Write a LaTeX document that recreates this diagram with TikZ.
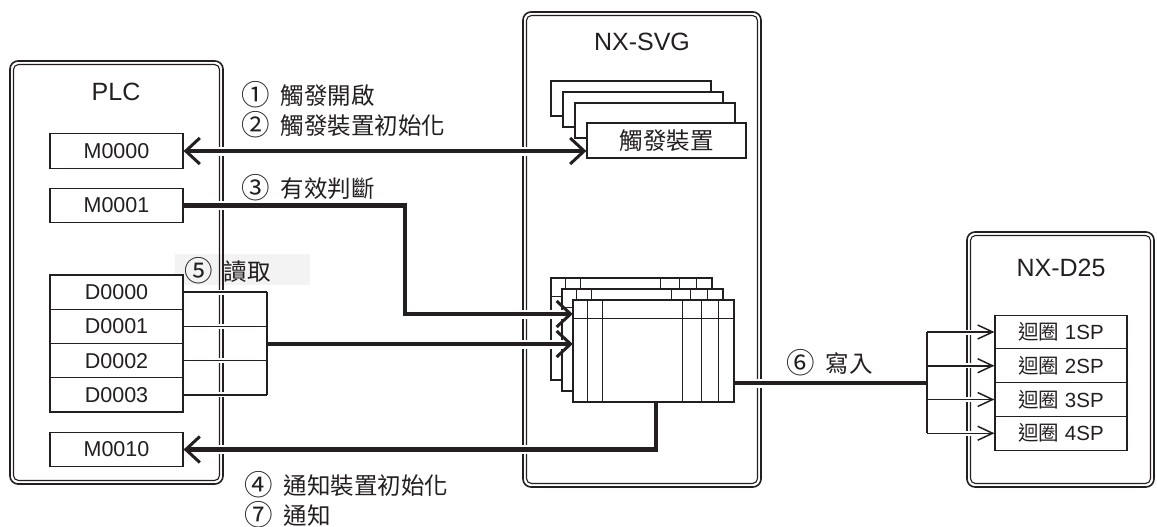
\documentclass[tikz,border=0pt]{standalone}
\usepackage{fontspec}
\setmainfont{Liberation Sans}
\newfontfamily\cjk{Noto Sans CJK TC}
\usetikzlibrary{arrows.meta}
\definecolor{ink}{HTML}{231F20}
\definecolor{pale}{HTML}{F3F3F3}
\newcommand{\cn}[1]{\raisebox{-1.5pt}{\cjk\fontsize{28.5}{30}\selectfont #1}\hspace{11pt}}
\tikzset{
  outerb/.style={draw=ink, line width=1.6pt, rounded corners=8pt},
  innerb/.style={draw=ink, line width=1.1pt, rounded corners=5pt},
  reg/.style={draw=ink, line width=1.2pt, fill=white, minimum width=133pt, minimum height=34.25pt, inner sep=0pt, font=\fontsize{21.5}{25}\selectfont, text=ink},
  coil/.style={draw=ink, line width=1.2pt, fill=white, minimum width=132pt, minimum height=33.75pt, inner sep=0pt, font=\fontsize{20.5}{24}\selectfont, text=ink},
  trig/.style={draw=ink, line width=1.3pt, fill=white, minimum width=159pt, minimum height=35pt, inner sep=0pt, font=\cjk\fontsize{23.5}{27}\selectfont, text=ink},
  layer/.style={draw=ink, line width=1.3pt, fill=white},
  tin/.style={draw=ink, line width=0.9pt},
  lbl/.style={anchor=west, inner sep=0pt, font=\cjk\fontsize{23.5}{27}\selectfont, text=ink},
  title/.style={inner sep=0pt, font=\fontsize{25}{29}\selectfont, text=ink},
  thk/.style={draw=ink, line width=4.8pt, preaction={draw=white, -, line width=9pt, shorten <=8pt, shorten >=8pt}},
  thn/.style={draw=ink, line width=1.5pt, preaction={draw=white, -, line width=5pt, shorten <=8pt, shorten >=8pt}},
  bigtip/.tip={Straight Barb[length=14pt, width=26pt, line width=3pt]},
  smalltip/.tip={Straight Barb[length=15pt, width=14pt, line width=1.5pt]},
}
\begin{document}
\begin{tikzpicture}[x=1pt,y=-1pt]
\useasboundingbox (0,0) rectangle (1157,527);
% pale background of label 5
\fill[pale] (175,254) rectangle (310,285);
% containers
\draw[outerb] (10,61) rectangle (223,484);
\draw[innerb] (13.5,64.5) rectangle (219.5,480.5);
\draw[outerb] (523,12) rectangle (761,487);
\draw[innerb] (526.5,15.5) rectangle (757.5,483.5);
\draw[outerb] (967,232) rectangle (1154,487);
\draw[innerb] (970.5,235.5) rectangle (1150.5,483.5);
% titles
\node[title] (plc) at (116,92) {PLC};
\node[title] (svg) at (642,42) {NX-SVG};
\node[title] (d25) at (1061,268) {NX-D25};
% PLC registers
\node[reg] (m0) at (116.5,151) {M0000};
\node[reg] (m1) at (116.5,205.5) {M0001};
\node[reg] (d0) at (116.5,292.1) {D0000};
\node[reg] (d1) at (116.5,326.4) {D0001};
\node[reg] (d2) at (116.5,360.6) {D0002};
\node[reg] (d3) at (116.5,394.9) {D0003};
\node[reg] (m10) at (116.5,449.5) {M0010};
% trigger stack
\foreach \x/\y in {551/81,563/92,575/103} \draw[layer] (\x,\y) rectangle ++(160,35);
\node[trig] (trg) at (666.5,140.5) {觸發裝置};
% table stack
\foreach \o in {-22,-11,0} {
  \draw[layer] (573+\o,300+\o) rectangle ++(161,102);
  \draw[tin] (573+\o,318+\o) -- ++(161,0);
  \foreach \c in {14,29,109,128,145} \draw[tin] (573+\c+\o,300+\o) -- ++(0,102);
}
\node[inner sep=0pt, minimum width=161pt, minimum height=102pt] (tbl) at (653.5,351) {};
% coils
\node[coil] (c1) at (1061,332) {{\cjk 迴圈} 1SP};
\node[coil] (c2) at (1061,365.75) {{\cjk 迴圈} 2SP};
\node[coil] (c3) at (1061,399.5) {{\cjk 迴圈} 3SP};
\node[coil] (c4) at (1061,433.25) {{\cjk 迴圈} 4SP};
% helper coordinates
\coordinate (j1) at (405,205.5);
\coordinate (j2) at (405,314);
\coordinate (br) at (267,344);
\coordinate (r1) at (656,402);
\coordinate (r2) at (656,449.5);
\coordinate (w0) at (734,383);
\coordinate (w1) at (927,383);
% connectors
\draw[thk, bigtip-bigtip] (m0.east) -- (trg.west |- m0.east);
\draw[thk, -bigtip] (m1.east) -- (j1) -- (j2) -- (tbl.west |- j2);
\foreach \n in {d0,d1,d2,d3} \draw[thn] (\n.east) -- (\n.east -| br);
\draw[ink, line width=1.5pt] (d0.east -| br) -- (d3.east -| br);
\draw[thk, -bigtip] (br) -- (tbl.west |- br);
\draw[thk, -bigtip] (r1) -- (r2) -- (m10.east);
\draw[thk] (w0) -- (w1);
\draw[ink, line width=1.8pt] (c1.west -| w1) -- (c4.west -| w1);
\foreach \n in {c1,c2,c3,c4} \draw[thn, -smalltip] (\n.west -| w1) -- (\n.west);
% labels
\node[lbl] (l1) at (241,95) {\cn{①}觸發開啟};
\node[lbl] (l2) at (241,125) {\cn{②}觸發裝置初始化};
\node[lbl] (l3) at (241,188) {\cn{③}有效判斷};
\node[lbl] (l5) at (184,271) {\cn{⑤}讀取};
\node[lbl] (l4) at (244,485) {\cn{④}通知裝置初始化};
\node[lbl] (l7) at (244,515) {\cn{⑦}通知};
\node[lbl] (l6) at (786,363) {\cn{⑥}寫入};
\end{tikzpicture}
\end{document}
